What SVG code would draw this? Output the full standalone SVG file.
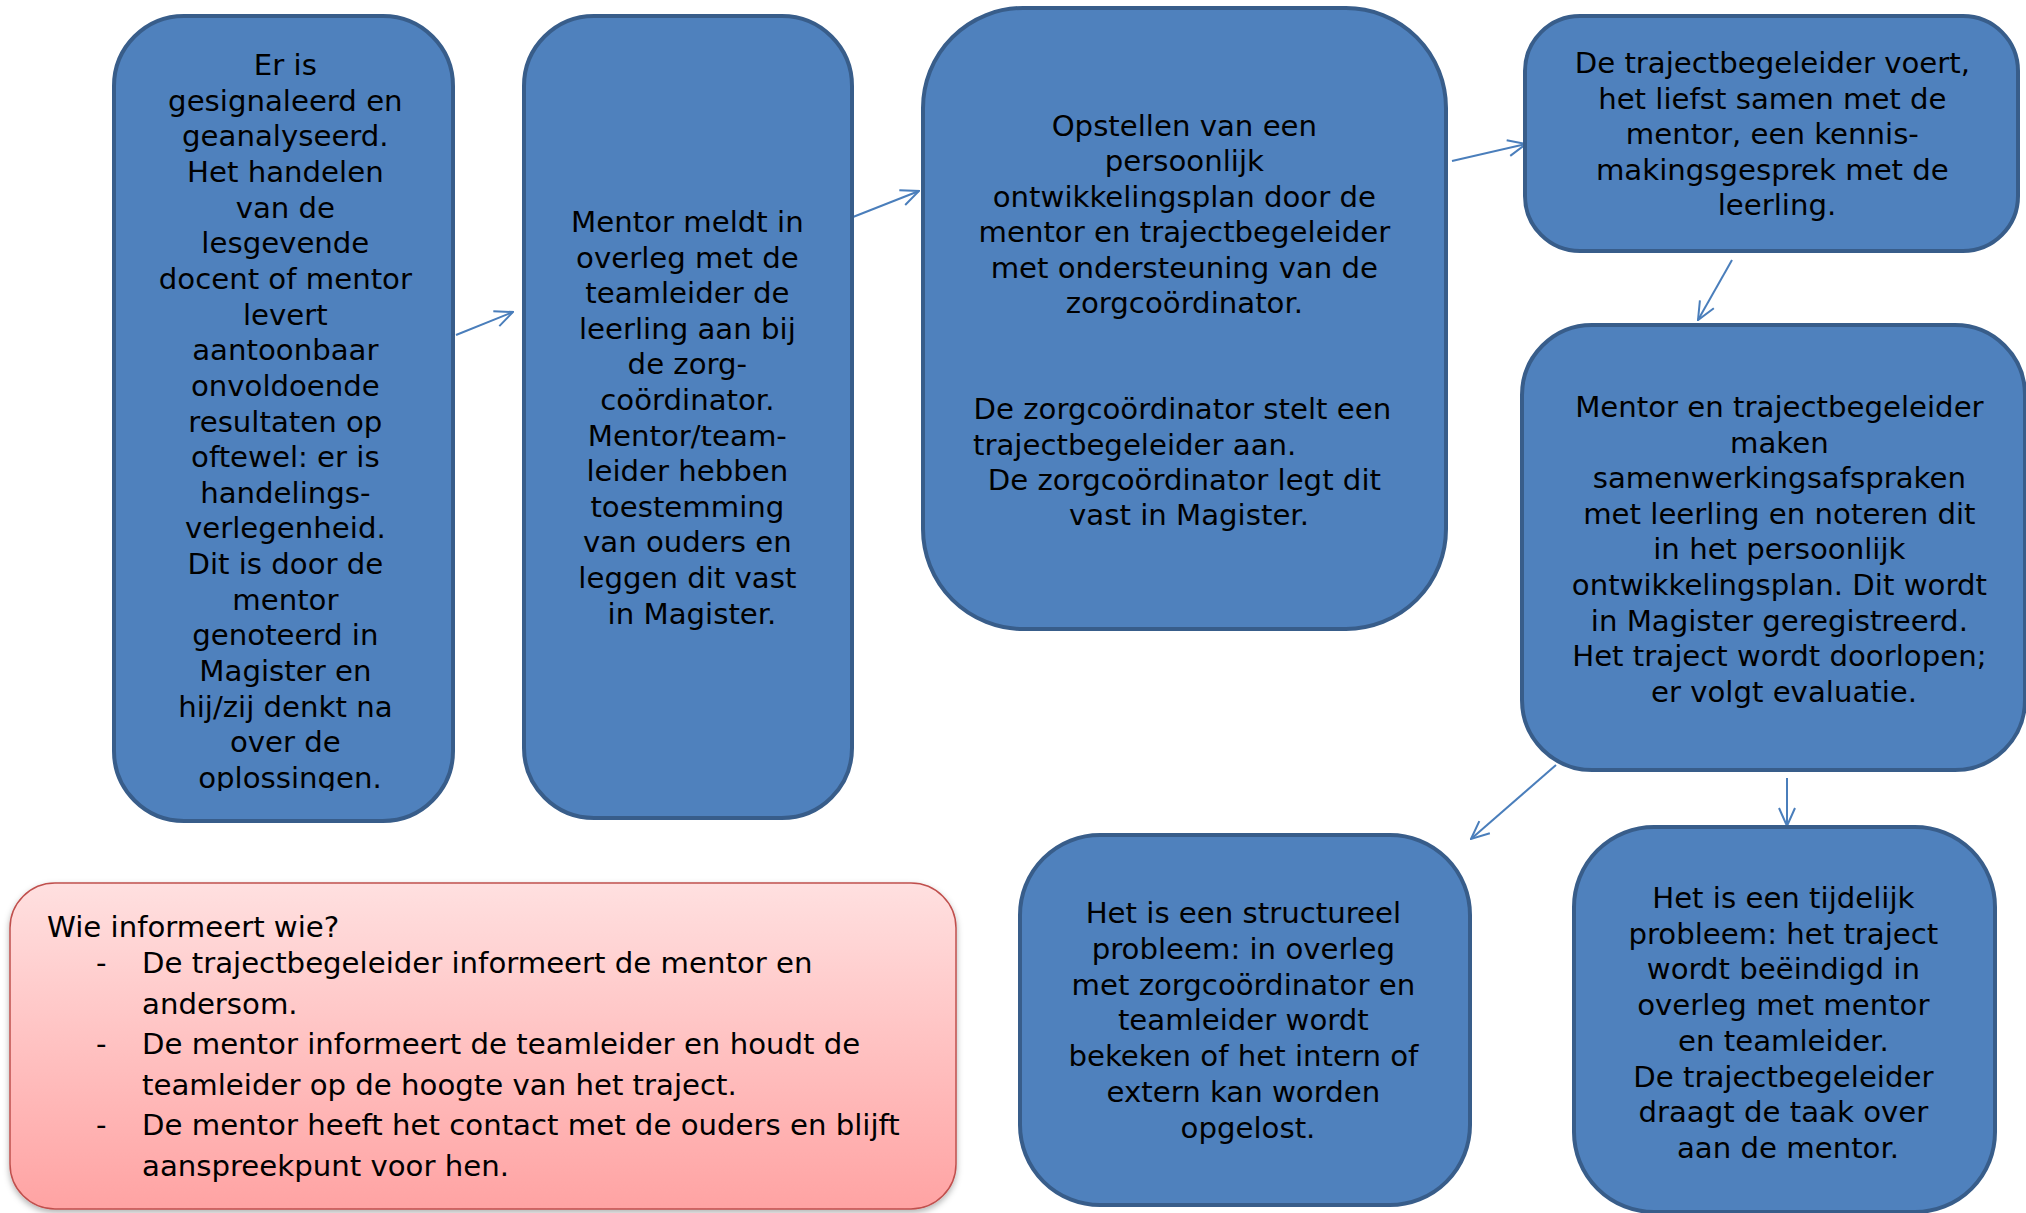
<svg xmlns="http://www.w3.org/2000/svg" width="2026" height="1213" viewBox="0 0 2026 1213">
<defs>
<style>
.box{fill:#4f81bd;stroke:#385d8a;stroke-width:4}
.t{font-family:"DejaVu Sans",Verdana,sans-serif;font-size:29.2px;fill:#000}
.c{text-anchor:middle}
.conn{stroke:#4a7ebb;stroke-width:2;fill:none}
</style>
<linearGradient id="pink" x1="0" y1="0" x2="0" y2="1">
<stop offset="0" stop-color="#ffe0e0"/>
<stop offset="1" stop-color="#ffa3a3"/>
</linearGradient>
<filter id="sh" x="-5%" y="-5%" width="110%" height="115%">
<feDropShadow dx="0" dy="3" stdDeviation="3" flood-color="#000" flood-opacity="0.3"/>
</filter>
<marker id="arr" viewBox="0 0 20 20" refX="19" refY="10" markerWidth="20" markerHeight="20" markerUnits="userSpaceOnUse" orient="auto">
<path d="M1,2 L19,10 L1,18" fill="none" stroke="#4a7ebb" stroke-width="2"/>
</marker>
<clipPath id="clip1"><rect x="114" y="16" width="339" height="775"/></clipPath>
</defs>

<g id="connectors">
<line class="conn" x1="456" y1="335" x2="513" y2="312" marker-end="url(#arr)"/>
<line class="conn" x1="853" y1="217" x2="919" y2="191" marker-end="url(#arr)"/>
<line class="conn" x1="1452" y1="161" x2="1526" y2="144" marker-end="url(#arr)"/>
<line class="conn" x1="1732" y1="260" x2="1698" y2="320" marker-end="url(#arr)"/>
<line class="conn" x1="1556" y1="765" x2="1471" y2="839" marker-end="url(#arr)"/>
<line class="conn" x1="1787" y1="778" x2="1787" y2="826" marker-end="url(#arr)"/>
</g>

<g id="node1">
<rect class="box" x="114" y="16" width="339" height="805" rx="70" ry="70"/>
<text class="t c" clip-path="url(#clip1)">
<tspan x="290" y="75">Er is</tspan>
<tspan x="290" y="110.65">gesignaleerd en</tspan>
<tspan x="290" y="146.3">geanalyseerd.</tspan>
<tspan x="290" y="181.95">Het handelen</tspan>
<tspan x="290" y="217.6">van de</tspan>
<tspan x="290" y="253.25">lesgevende</tspan>
<tspan x="290" y="288.9">docent of mentor</tspan>
<tspan x="290" y="324.55">levert</tspan>
<tspan x="290" y="360.2">aantoonbaar</tspan>
<tspan x="290" y="395.85">onvoldoende</tspan>
<tspan x="290" y="431.5">resultaten op</tspan>
<tspan x="290" y="467.15">oftewel: er is</tspan>
<tspan x="290" y="502.8">handelings-</tspan>
<tspan x="290" y="538.45">verlegenheid.</tspan>
<tspan x="290" y="574.1">Dit is door de</tspan>
<tspan x="290" y="609.75">mentor</tspan>
<tspan x="290" y="645.4">genoteerd in</tspan>
<tspan x="290" y="681.05">Magister en</tspan>
<tspan x="290" y="716.7">hij/zij denkt na</tspan>
<tspan x="290" y="752.35">over de</tspan>
<tspan x="290" y="788">oplossingen.</tspan>
</text>
</g>

<g id="node2">
<rect class="box" x="524" y="16" width="328" height="802" rx="70" ry="70"/>
<text class="t c">
<tspan x="692" y="232">Mentor meldt in</tspan>
<tspan x="692" y="267.6">overleg met de</tspan>
<tspan x="692" y="303.2">teamleider de</tspan>
<tspan x="692" y="338.8">leerling aan bij</tspan>
<tspan x="692" y="374.4">de zorg-</tspan>
<tspan x="692" y="410">coördinator.</tspan>
<tspan x="692" y="445.6">Mentor/team-</tspan>
<tspan x="692" y="481.2">leider hebben</tspan>
<tspan x="692" y="516.8">toestemming</tspan>
<tspan x="692" y="552.4">van ouders en</tspan>
<tspan x="692" y="588">leggen dit vast</tspan>
<tspan x="692" y="623.6">in Magister.</tspan>
</text>
</g>

<g id="node3">
<rect class="box" x="923" y="8" width="523" height="621" rx="100" ry="100"/>
<text class="t c">
<tspan x="1189" y="136">Opstellen van een</tspan>
<tspan x="1189" y="171.4">persoonlijk</tspan>
<tspan x="1189" y="206.8">ontwikkelingsplan door de</tspan>
<tspan x="1189" y="242.2">mentor en trajectbegeleider</tspan>
<tspan x="1189" y="277.6">met ondersteuning van de</tspan>
<tspan x="1189" y="313">zorgcoördinator.</tspan>
<tspan x="1187" y="419.2">De zorgcoördinator stelt een</tspan>
<tspan x="1189" y="490">De zorgcoördinator legt dit</tspan>
<tspan x="1189" y="525.4">vast in Magister.</tspan>
</text>
<text class="t" x="973" y="454.6">trajectbegeleider aan.</text>
</g>

<g id="node4">
<rect class="box" x="1525" y="16" width="493" height="235" rx="55" ry="55"/>
<text class="t c">
<tspan x="1777" y="73">De trajectbegeleider voert,</tspan>
<tspan x="1777" y="108.5">het liefst samen met de</tspan>
<tspan x="1777" y="144">mentor, een kennis-</tspan>
<tspan x="1777" y="179.5">makingsgesprek met de</tspan>
<tspan x="1777" y="215">leerling.</tspan>
</text>
</g>

<g id="node5">
<rect class="box" x="1522" y="325" width="503" height="445" rx="70" ry="70"/>
<text class="t c">
<tspan x="1784" y="417">Mentor en trajectbegeleider</tspan>
<tspan x="1784" y="452.6">maken</tspan>
<tspan x="1784" y="488.2">samenwerkingsafspraken</tspan>
<tspan x="1784" y="523.8">met leerling en noteren dit</tspan>
<tspan x="1784" y="559.4">in het persoonlijk</tspan>
<tspan x="1784" y="595">ontwikkelingsplan. Dit wordt</tspan>
<tspan x="1784" y="630.6">in Magister geregistreerd.</tspan>
<tspan x="1784" y="666.2">Het traject wordt doorlopen;</tspan>
<tspan x="1784" y="701.8">er volgt evaluatie.</tspan>
</text>
</g>

<g id="node6">
<rect class="box" x="1020" y="835" width="450" height="370" rx="80" ry="80"/>
<text class="t c">
<tspan x="1248" y="923">Het is een structureel</tspan>
<tspan x="1248" y="958.8">probleem: in overleg</tspan>
<tspan x="1248" y="994.6">met zorgcoördinator en</tspan>
<tspan x="1248" y="1030.4">teamleider wordt</tspan>
<tspan x="1248" y="1066.2">bekeken of het intern of</tspan>
<tspan x="1248" y="1102">extern kan worden</tspan>
<tspan x="1248" y="1137.8">opgelost.</tspan>
</text>
</g>

<g id="node7">
<rect class="box" x="1574" y="827" width="421" height="385" rx="80" ry="80"/>
<text class="t c">
<tspan x="1788" y="908">Het is een tijdelijk</tspan>
<tspan x="1788" y="943.7">probleem: het traject</tspan>
<tspan x="1788" y="979.4">wordt beëindigd in</tspan>
<tspan x="1788" y="1015.1">overleg met mentor</tspan>
<tspan x="1788" y="1050.8">en teamleider.</tspan>
<tspan x="1788" y="1086.5">De trajectbegeleider</tspan>
<tspan x="1788" y="1122.2">draagt de taak over</tspan>
<tspan x="1788" y="1157.9">aan de mentor.</tspan>
</text>
</g>

<g id="node8">
<rect x="10" y="883" width="946" height="326" rx="45" ry="45" fill="url(#pink)" stroke="#c0504d" stroke-width="1.5" filter="url(#sh)"/>
<text class="t" x="47" y="937">Wie informeert wie?</text>
<text class="t">
<tspan x="96" y="973">-</tspan>
<tspan x="96" y="1054">-</tspan>
<tspan x="96" y="1135">-</tspan>
</text>
<text class="t">
<tspan x="142" y="973">De trajectbegeleider informeert de mentor en</tspan>
<tspan x="142" y="1013.5">andersom.</tspan>
<tspan x="142" y="1054">De mentor informeert de teamleider en houdt de</tspan>
<tspan x="142" y="1094.5">teamleider op de hoogte van het traject.</tspan>
<tspan x="142" y="1135">De mentor heeft het contact met de ouders en blijft</tspan>
<tspan x="142" y="1175.5">aanspreekpunt voor hen.</tspan>
</text>
</g>
</svg>
